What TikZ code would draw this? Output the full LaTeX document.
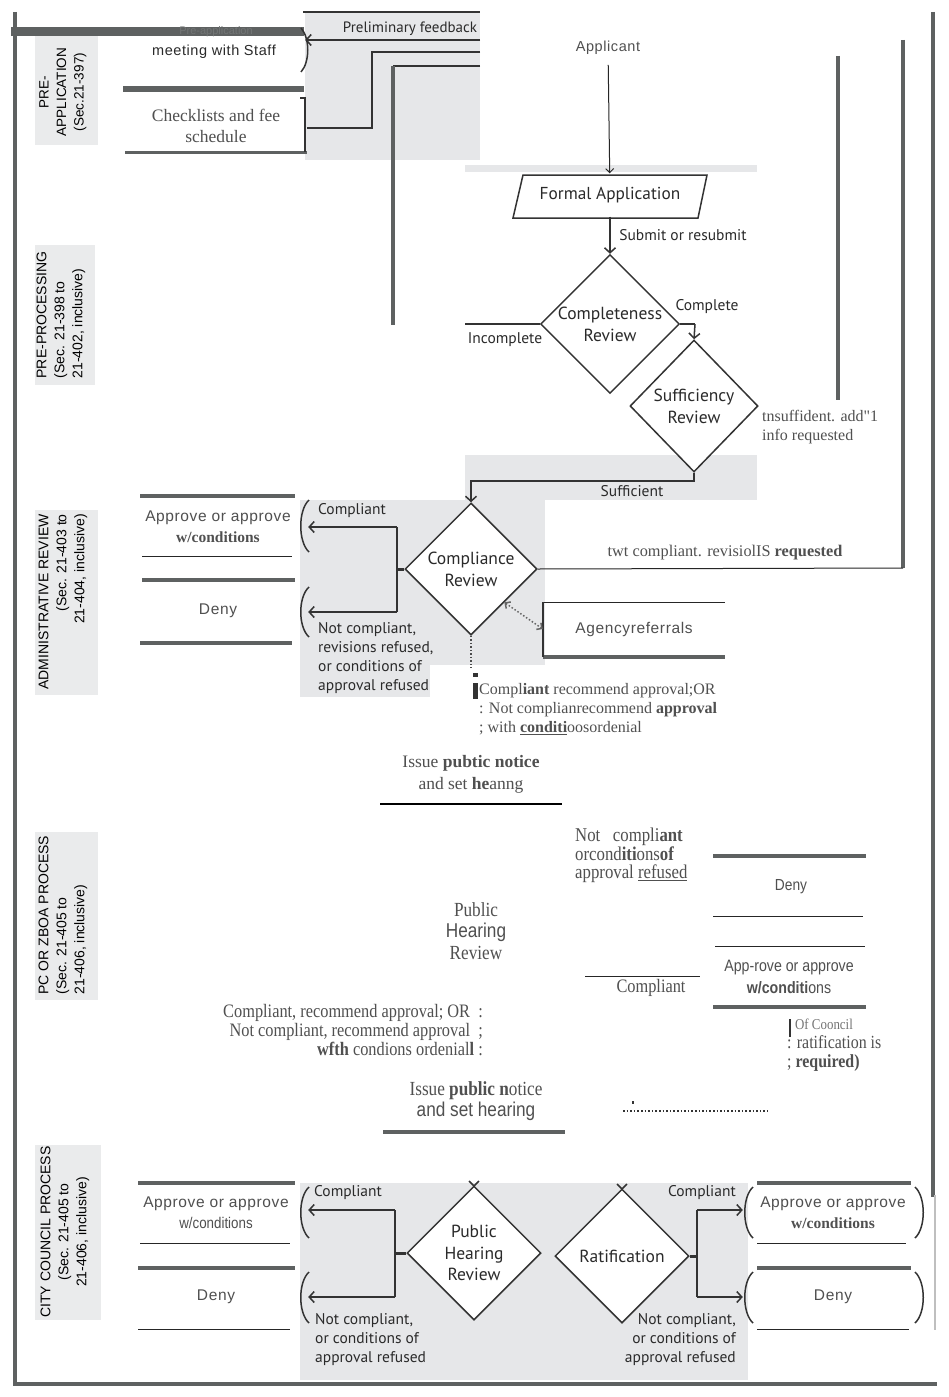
\documentclass[tikz,border=0pt]{standalone}
\usepackage{fontspec}
\setmainfont{Liberation Serif}
\newfontfamily\myr{PT Sans}
\newfontfamily\ari[LetterSpace=4]{Liberation Sans}
\newfontfamily\arip{Liberation Sans}
\newfontfamily\tim{Liberation Serif}
\newfontfamily\timn[FakeStretch=0.86]{Liberation Serif}
\newfontfamily\arin[FakeStretch=0.86]{Liberation Sans}
\usetikzlibrary{shapes.geometric,arrows.meta}
\definecolor{barc}{HTML}{5E6161}
\definecolor{scrgray}{HTML}{E6E7E9}
\definecolor{lblc}{HTML}{EAEBEC}
\definecolor{txt}{HTML}{2A2A2A}
\definecolor{ocr}{HTML}{505050}
\definecolor{ghost}{HTML}{727575}
\newcommand\fsz[2]{\fontsize{#1}{#2}\selectfont}
\begin{document}
\begin{tikzpicture}[x=1pt,y=-1pt,
  barline/.style={draw=barc, line width=4pt},
  thinline/.style={draw=black!85, line width=1pt},
  conn/.style={draw=black!80, line width=1.5pt},
  arr/.style={draw=black!80, line width=1.5pt, -{Straight Barb[length=5pt,width=11pt]}},
  arrthin/.style={draw=black!85, line width=1pt, -{Straight Barb[length=4pt,width=8pt]}},
  dia/.style={diamond, draw=black!80, line width=1.5pt, fill=white, inner sep=0pt, align=center, text=txt, font=\myr\fsz{17.5}{22}},
  scr/.style={font=\myr\fsz{15.5}{19}, text=txt, inner sep=0pt},
  lbl/.style={rotate=90, font=\arip\fsz{14}{18}, text=black, inner sep=0pt},
  boxtxt/.style={font=\ari\fsz{15.5}{21}, text=ocr, inner sep=0pt, align=center},
  serif/.style={font=\tim\fsz{16}{19}, text=ocr, inner sep=0pt},
  cond/.style={font=\timn\fsz{19}{19}, text=ocr, inner sep=0pt}
]
\useasboundingbox (0,0) rectangle (948,1397);
\fill[white] (0,0) rectangle (948,1397);

% ---------- screenshot backgrounds
\fill[scrgray] (305,12) rectangle (480,160);
\fill[scrgray] (465,165) rectangle (757,172);
\fill[scrgray] (465,455) rectangle (757,500);
\fill[scrgray] (300,500) rectangle (545,665);
\fill[scrgray] (300,665) rectangle (430,697);
\fill[scrgray] (300,1183) rectangle (748,1380);

% ---------- lane labels
\fill[lblc] (35,30) rectangle (98,145);
\fill[lblc] (35,245) rectangle (95,385);
\fill[lblc] (35,510) rectangle (98,695);
\fill[lblc] (35,832) rectangle (98,1000);
\fill[lblc] (35,1145) rectangle (101,1320);
\node[lbl, font=\arip\fsz{13.5}{17.5}, align=center] (lpre) at (63,92) {PRE-\\APPLICATION\\(Sec.21-397)};
\node[lbl, align=left] (lproc) at (61,315) {PRE-PROCESSING\\(Sec. 21-398 to\\21-402, inclusive)};
\node[lbl, align=right] (ladm) at (63,602) {ADMINISTRATIVE REVIEW\\(Sec. 21-403 to\\21-404, inclusive)};
\node[lbl, align=left] (lpc) at (63,915) {PC OR ZBOA PROCESS\\(Sec. 21-405 to\\21-406, inclusive)};
\node[lbl, align=center] (lcc) at (65,1232) {CITY COUNCIL PROCESS\\(Sec. 21-405 to\\21-406, inclusive)};

% ---------- frame
\draw[barline] (15,12) -- (15,1386);
\draw[barline] (13,1384) -- (937,1384);
\draw[barline] (933,12) -- (933,1197);
\draw[draw=black!25, line width=2pt] (935,1195) -- (935,1330);
\draw[barline] (838,56) -- (838,400);
\draw[barline] (903,40) -- (903,568);

% ---------- pre-application
\draw[draw=barc, line width=9pt] (11,32) -- (304,32);
\node[font=\arip\fsz{11}{12}, text=ghost, inner sep=0pt] (ghostpre) at (216,32) {Pre-application};
\node[boxtxt, font=\ari\fsz{14.5}{18}, text=txt, minimum width=182pt, minimum height=30pt] (meet) at (214,52) {meeting with Staff};
\draw[draw=barc, line width=6pt] (123,89) -- (304,89);
\node[serif, font=\tim\fsz{17.5}{21.5}, align=center, minimum width=182pt] (check) at (216,126) {Checklists and fee\\schedule};
\draw[draw=barc, line width=3.5pt] (125,152.5) -- (307,152.5);
\draw[conn] (300,98) -- (305,98) -- (305,152);
\draw[conn] (301,28) .. controls (310,38) and (310,62) .. (301,72);
\draw[conn] (303,12) -- (480,12);

\coordinate (pf) at (480,40);
\draw[arr] (pf) -- (pf -| meet.east);
\node[scr, font=\myr\fsz{15}{17}] (pflbl) at (410,29) {Preliminary feedback};
\coordinate (s1) at (480,52);
\coordinate (s2) at (372,52);
\coordinate (s3) at (372,128);
\draw[conn] (s1) -- (s2) -- (s3) -- (s3 -| check.east);
\coordinate (r1) at (480,66);
\coordinate (r2) at (393,66);
\coordinate (r3) at (393,325);
\draw[conn] (r1) -- (r2);
\draw[barline] (r2) -- (r3);

% ---------- applicant / pre-processing
\node[boxtxt, font=\ari\fsz{14.5}{18}] (appl) at (608,48) {Applicant};
\filldraw[draw=black!80, fill=white, line width=1.5pt] (523,175) -- (707,175) -- (698,218) -- (513,218) -- cycle;
\node[scr, font=\myr\fsz{17.3}{19}, minimum width=185pt, minimum height=43pt] (formal) at (610,195) {Formal Application};
\draw[arrthin, shorten <=10pt] (appl) -- (formal);

\node[dia, minimum width=134pt, minimum height=132pt] (compl) at (610,324) {Completeness\\Review};
\draw[arr] (formal.south) -- (compl.north);
\node[scr] (subm) at (683,235) {Submit or resubmit};

\coordinate (inc) at (465,324);
\draw[conn] (compl.west) -- (inc);
\node[scr] (inclbl) at (505,340) {Incomplete};

\node[dia, minimum width=128pt, minimum height=132pt] (suff) at (694,406) {Sufficiency\\Review};
\coordinate (cpl) at (695,324);
\draw[conn] (compl.east) -- (cpl);
\draw[arr] (cpl) -- (suff.north);
\node[scr] (cpllbl) at (707,307) {Complete};

\node[serif, align=left, anchor=west] (insuf) at (762,427) {tnsuffident. add"1\\info requested};

% ---------- administrative review
\node[dia, minimum width=132pt, minimum height=132pt] (cr) at (471,569) {Compliance\\Review};
\draw[arr] (suff.south) -- ++(0,8) -| (cr.north);
\node[scr] (sufflbl) at (632,491) {Sufficient};

\coordinate (t903) at (903,568);
\draw[thinline] (cr.east) -- (t903);
\node[serif, font=\tim\fsz{16.3}{18}] (twt) at (725,553) {twt compliant. revisiolIS \textbf{requested}};

\draw[draw=barc, line width=4pt] (140,496) -- (295,496);
\node[boxtxt, minimum width=180pt, minimum height=40pt] (app1) at (218,527) {Approve or approve\\{\tim\bfseries w/conditions}};
\draw[thinline] (142,556) -- (292,556);
\draw[draw=barc, line width=4pt] (142,580) -- (295,580);
\node[boxtxt, minimum width=180pt, minimum height=40pt] (deny1) at (218,611) {Deny};
\draw[draw=barc, line width=4pt] (140,643) -- (292,643);
\draw[conn] (309,500) .. controls (298,510) and (298,542) .. (309,552);
\draw[conn] (309,587) .. controls (298,597) and (298,627) .. (309,637);

\coordinate (cj) at (397,569);
\coordinate (cja) at (397,527);
\coordinate (cjd) at (397,612);
\draw[draw=black!80, line width=3pt] (cr.west) -- (cj);
\draw[conn] (cja) -- (cjd);
\draw[arr] (cja) -- (cja -| app1.east);
\draw[arr] (cjd) -- (cjd -| deny1.east);
\node[scr] (c1lbl) at (352,511) {Compliant};
\node[scr, align=left, anchor=north west] (nc1lbl) at (318,622) {Not compliant,\\revisions refused,\\or conditions of\\approval refused};

\draw[thinline] (543,602) -- (725,602);
\draw[draw=barc, line width=4pt] (543,657) -- (725,657);
\draw[conn] (543,602) -- (543,657);
\node[boxtxt, minimum width=182pt, minimum height=55pt] (agency) at (634,629) {Agencyreferrals};
\draw[draw=black!60, line width=1.5pt, dotted, {Straight Barb[length=4pt,width=8pt]}-{Straight Barb[length=4pt,width=8pt]}] (cr.south east) -- (agency.west);

\coordinate (dd) at (471,668);
\draw[draw=black!70, line width=1.5pt, dotted] (cr.south) -- (dd);
\fill[black!80] (473,673) rectangle (478,677);
\fill[black!80] (473,683) rectangle (478,699);
\node[serif, align=left, anchor=north west] (rec1) at (479,683) {Compl\textbf{iant} recommend approval;OR\\: Not complianrecommend \textbf{approval}\\; with \textbf{\underline{conditi}}oosordenial};

\node[serif, font=\tim\fsz{17.5}{22}, align=center] (notice1) at (471,774) {Issue \textbf{pubtic notice}\\and set \textbf{he}anng};
\draw[draw=black, line width=1.5pt] (380,804) -- (562,804);

% ---------- PC / ZBOA process
\node[cond, font=\timn\fsz{19.5}{17.5}, align=left, anchor=north west] (pcnc) at (575,828) {Not\ \ \ compli\textbf{ant}\\orcond\textbf{iti}ons\textbf{of}\\approval \underline{refused}};
\draw[draw=barc, line width=4.5pt] (713,856) -- (866,856);
\node[boxtxt, font=\arin\fsz{16}{21}] (deny2) at (791,887) {Deny};
\draw[thinline] (713,916) -- (863,916);
\draw[thinline] (715,946) -- (865,946);
\node[boxtxt, font=\arin\fsz{16.5}{22.5}] (app2) at (789,977) {App-rove or approve\\\textbf{w/conditi}ons};
\draw[draw=barc, line width=4.5pt] (713,1007) -- (866,1007);
\draw[thinline] (585,976) -- (700,976);
\node[cond] (pccomp) at (651,988) {Compliant};

\node[cond, font=\timn\fsz{20}{21.5}, align=center] (pcphr) at (476,931) {Public\\{\arin Hearing}\\Review};
\node[cond, align=right, anchor=north east] (pcrec) at (483,1004) {Compliant, recommend approval; OR\ \ :\\Not compliant, recommend approval\ \ ;\\\textbf{wfth} condions ordenial\textbf{l} :};
\fill[black!80] (789,1019) rectangle (791,1037);
\node[cond, font=\timn\fsz{18.5}{19}, align=left, anchor=north west] (pcrat) at (787,1019) {\ \ {\color{black!55}\fsz{15}{19}Of Cooncil}\\: ratification is\\; \textbf{required)}};

\node[cond, align=center, font=\timn\fsz{20}{21}] (notice2) at (476,1101) {Issue \textbf{public n}otice\\{\arin and set hearing}};
\draw[draw=barc, line width=4pt] (383,1132) -- (565,1132);
\coordinate (dl1) at (623,1111);
\coordinate (dl2) at (768,1111);
\draw[draw=black!80, line width=1.6pt, dotted] (dl1) -- (dl2);
\fill[black!80] (632,1101) rectangle (634,1104);

% ---------- city council process
\node[dia, minimum width=134pt, minimum height=134pt, font=\myr\fsz{17.5}{21.5}] (phr) at (474,1253) {Public\\Hearing\\Review};
\node[dia, minimum width=134pt, minimum height=134pt] (rat) at (622,1256) {Ratification};
\fill[white] (300,1170) rectangle (748,1182.5);
\draw[draw=black!80, line width=1.5pt] (469,1181) -- (474,1186) -- (479,1181);
\draw[draw=black!80, line width=1.5pt] (617,1184) -- (622,1189) -- (627,1184);

\draw[draw=barc, line width=4pt] (138,1183) -- (295,1183);
\node[boxtxt, minimum width=184pt, minimum height=40pt] (app3) at (216,1213) {Approve or approve\\{\arin w/conditions}};
\draw[thinline] (140,1243) -- (290,1243);
\draw[draw=barc, line width=4pt] (138,1268) -- (295,1268);
\node[boxtxt, minimum width=184pt, minimum height=40pt] (deny3) at (216,1297) {Deny};
\draw[thinline] (138,1329) -- (290,1329);
\draw[conn] (309,1187) .. controls (298,1197) and (298,1228) .. (309,1238);
\draw[conn] (309,1272) .. controls (298,1282) and (298,1313) .. (309,1323);

\coordinate (pj) at (395,1253);
\coordinate (pja) at (395,1210);
\coordinate (pjd) at (395,1297);
\draw[draw=black!80, line width=3pt] (phr.west) -- (pj);
\draw[conn] (pja) -- (pjd);
\draw[arr] (pja) -- (pja -| app3.east);
\draw[arr] (pjd) -- (pjd -| deny3.east);
\node[scr] (c3lbl) at (348,1193) {Compliant};
\node[scr, align=left, anchor=north west] (nc3lbl) at (315,1313) {Not compliant,\\or conditions of\\approval refused};

\draw[draw=barc, line width=4pt] (757,1183) -- (911,1183);
\node[boxtxt, minimum width=180pt, minimum height=40pt] (app4) at (833,1213) {Approve or approve\\{\tim\bfseries w/conditions}};
\draw[thinline] (757,1243) -- (906,1243);
\draw[draw=barc, line width=4pt] (757,1268) -- (911,1268);
\node[boxtxt, minimum width=180pt, minimum height=40pt] (deny4) at (833,1297) {Deny};
\draw[thinline] (757,1329) -- (909,1329);
\draw[conn] (753,1187) .. controls (742,1197) and (742,1228) .. (753,1238);
\draw[conn] (753,1272) .. controls (742,1282) and (742,1313) .. (753,1323);
\draw[conn] (915,1187) .. controls (926,1197) and (926,1228) .. (915,1238);
\draw[conn] (915,1272) .. controls (926,1282) and (926,1313) .. (915,1323);

\coordinate (rj) at (697,1256);
\coordinate (rja) at (697,1210);
\coordinate (rjd) at (697,1297);
\draw[draw=black!80, line width=3pt] (rat.east) -- (rj);
\draw[conn] (rja) -- (rjd);
\draw[arr] (rja) -- (rja -| app4.west);
\draw[arr] (rjd) -- (rjd -| deny4.west);
\node[scr, anchor=east] (c4lbl) at (736,1193) {Compliant};
\node[scr, align=right, anchor=north east] (nc4lbl) at (736,1313) {Not compliant,\\or conditions of\\approval refused};
\end{tikzpicture}
\end{document}
